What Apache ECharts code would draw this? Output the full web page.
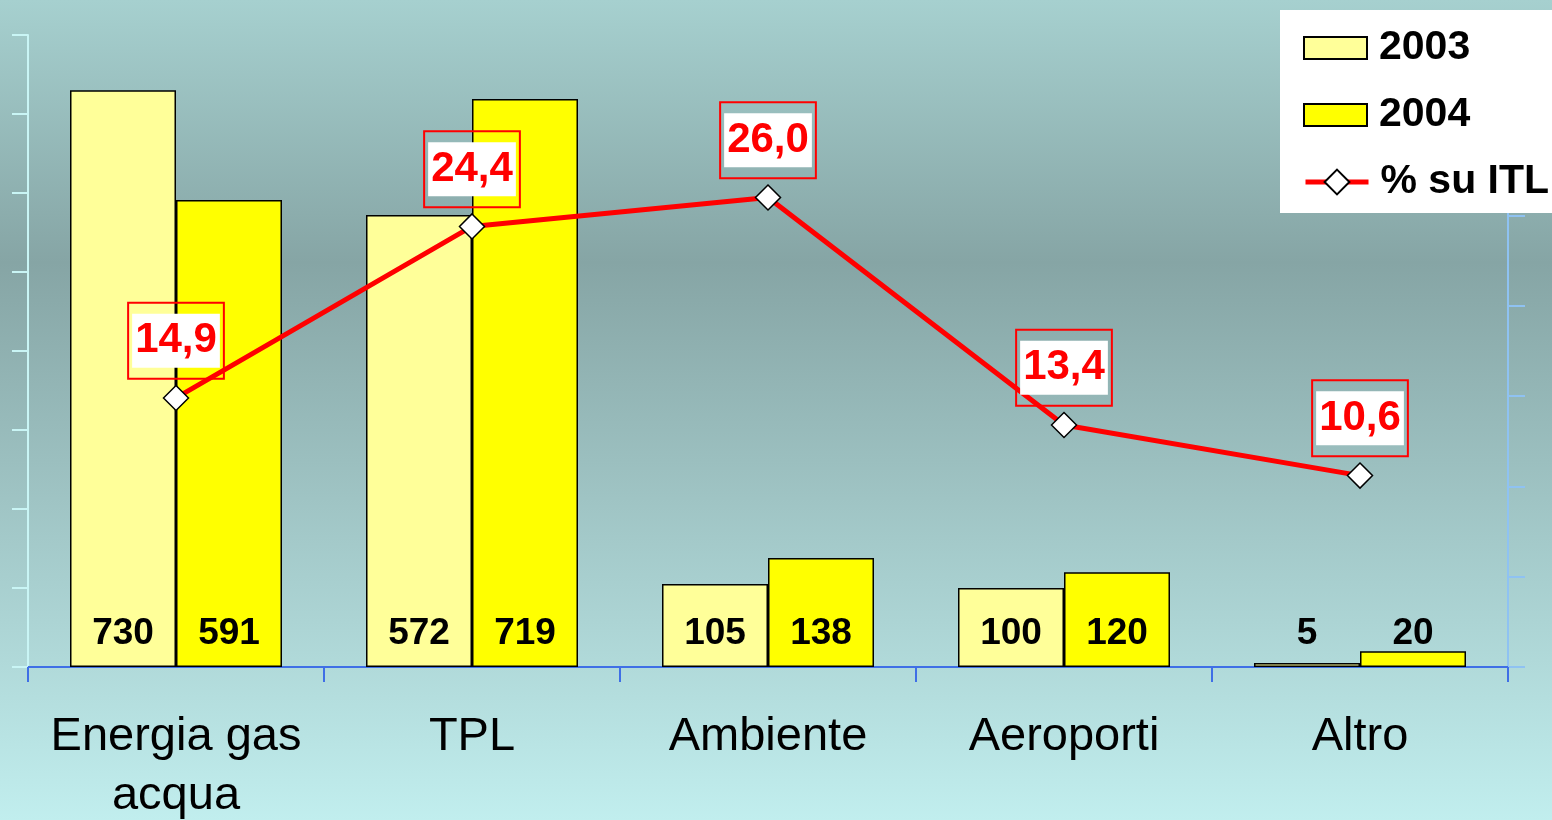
<!DOCTYPE html>
<html>
<head>
<meta charset="utf-8">
<script src="https://cdn.jsdelivr.net/npm/echarts@6/dist/echarts.min.js"></script>
<style>
  html, body { margin: 0; padding: 0; }
  #chart { width: 1552px; height: 820px; }
</style>
</head>
<body>
<div id="chart"></div>
<script>
var categories = ['Energia gas\nacqua', 'TPL', 'Ambiente', 'Aeroporti', 'Altro'];
var values2003 = [730, 572, 105, 100, 5];
var values2004 = [591, 719, 138, 120, 20];
var percentItl = [14.9, 24.4, 26.0, 13.4, 10.6];

var seriesNames = ['2003', '2004', '% su ITL'];

var myChart = echarts.init(document.getElementById('chart'));

var fontStack = 'Arial, "Liberation Sans", sans-serif';

function barLabel() {
    return {
        show: true,
        position: 'insideBottom',
        distance: 15,
        color: '#000',
        fontFamily: fontStack,
        fontWeight: 'bold',
        fontSize: 37
    };
}

function legendText() {
    return {
        color: '#000',
        fontFamily: fontStack,
        fontWeight: 'bold',
        fontSize: 41,
        lineHeight: 42,
        padding: [0, 0, 0, 7]
    };
}

var option = {
    animation: false,
    backgroundColor: {
        type: 'linear', x: 0, y: 0, x2: 0, y2: 1,
        colorStops: [
            { offset: 0, color: '#a6d0cf' },
            { offset: 0.32, color: '#86a5a5' },
            { offset: 1, color: '#c1eeee' }
        ]
    },
    // white box behind the legend
    graphic: [{
        type: 'rect',
        left: 1280,
        top: 10,
        shape: { width: 272, height: 203 },
        style: { fill: '#fff' },
        z: 20
    }],
    grid: {
        left: 28,
        right: 44,
        top: 35,
        bottom: 153,
        outerBoundsMode: 'none'
    },
    legend: [
        {
            left: 1303,
            top: 27,
            z: 30,
            orient: 'vertical',
            padding: 0,
            itemWidth: 63,
            itemHeight: 22,
            itemGap: 25,
            textStyle: legendText(),
            data: [
                { name: seriesNames[0], icon: 'rect' },
                { name: seriesNames[1], icon: 'rect' }
            ]
        },
        {
            left: 1303,
            top: 161,
            z: 30,
            orient: 'vertical',
            padding: 0,
            itemWidth: 63,
            itemHeight: 31,
            textStyle: legendText(),
            lineStyle: { width: 5 },
            data: [seriesNames[2]]
        }
    ],
    xAxis: {
        type: 'category',
        data: categories,
        axisLine: { lineStyle: { color: '#3f6fe6', width: 2 } },
        axisTick: { show: true, length: 15, lineStyle: { color: '#3f6fe6', width: 2 } },
        axisLabel: {
            color: '#000',
            fontFamily: fontStack,
            fontSize: 47,
            lineHeight: 59,
            margin: 41,
            interval: 0
        }
    },
    yAxis: [
        {
            type: 'value',
            min: 0,
            max: 800,
            interval: 100,
            axisLine: { show: true, lineStyle: { color: '#c9f5f5', width: 2 } },
            axisTick: { show: true, length: 16, lineStyle: { color: '#c9f5f5', width: 2 } },
            axisLabel: { show: false },
            splitLine: { show: false }
        },
        {
            type: 'value',
            min: 0,
            max: 35,
            interval: 5,
            position: 'right',
            axisLine: { show: true, lineStyle: { color: '#8fc2f2', width: 2 } },
            axisTick: { show: true, length: 17, lineStyle: { color: '#8fc2f2', width: 2 } },
            axisLabel: { show: false },
            splitLine: { show: false }
        }
    ],
    series: [
        {
            name: seriesNames[0],
            type: 'bar',
            data: values2003,
            barWidth: 106,
            barGap: '0%',
            itemStyle: { color: '#ffff99', borderColor: '#000', borderWidth: 1.5 },
            label: barLabel()
        },
        {
            name: seriesNames[1],
            type: 'bar',
            data: values2004,
            barWidth: 106,
            barGap: '0%',
            itemStyle: { color: '#ffff00', borderColor: '#000', borderWidth: 1.5 },
            label: barLabel()
        },
        {
            name: seriesNames[2],
            type: 'line',
            yAxisIndex: 1,
            data: percentItl,
            z: 5,
            symbol: 'diamond',
            symbolSize: 25,
            lineStyle: { color: '#ff0000', width: 5 },
            itemStyle: { color: '#fff', borderColor: '#000', borderWidth: 1.5 },
            label: {
                show: true,
                position: 'top',
                distance: 6,
                borderColor: '#ff0000',
                borderWidth: 2,
                padding: [11, 4, 11, 4],
                formatter: function (p) {
                    return '{v|' + p.value.toFixed(1).replace('.', ',') + '}';
                },
                rich: {
                    v: {
                        color: '#ff0000',
                        backgroundColor: '#fff',
                        fontFamily: fontStack,
                        fontWeight: 'bold',
                        fontSize: 42,
                        height: 42,
                        padding: [6, 3, 6, 3]
                    }
                }
            }
        }
    ]
};

myChart.setOption(option);
</script>
</body>
</html>
